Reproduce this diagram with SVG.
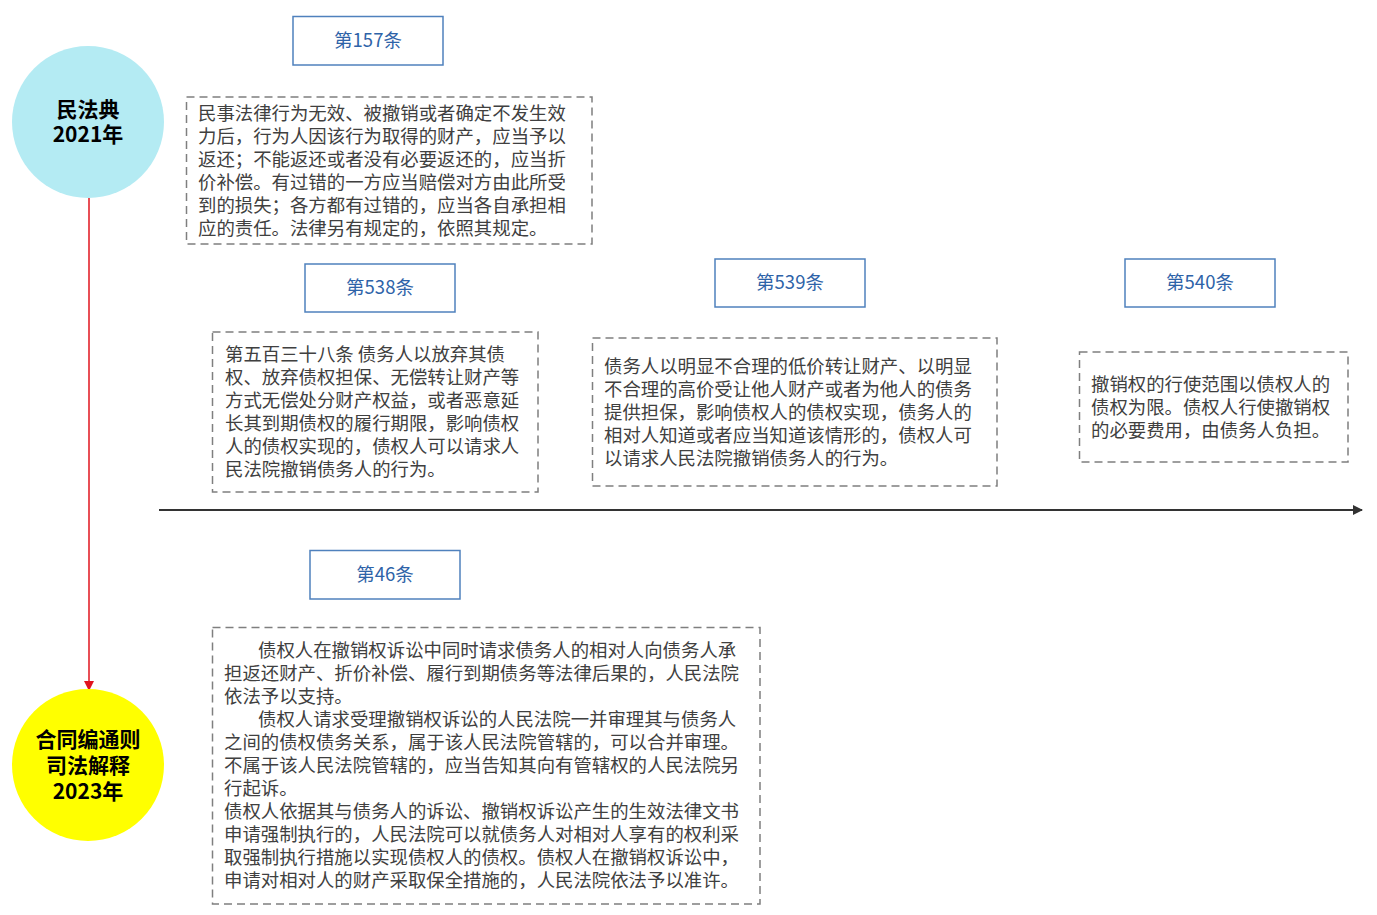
<svg xmlns="http://www.w3.org/2000/svg" width="1377" height="915" viewBox="0 0 1377 915">
<defs>
<style>
.lbl rect{fill:#ffffff;stroke:#4f81bd;stroke-width:1.5}
.lbl text{font-family:"Noto Sans CJK SC","Microsoft YaHei",sans-serif;font-size:18.5px;fill:#2e63a8;text-anchor:middle}
.note rect{fill:#ffffff;stroke:#7f7f7f;stroke-width:1.5;stroke-dasharray:8 5}
.note text{font-family:"Noto Sans CJK SC",sans-serif;font-size:18.4px;fill:#404040}
.era text{font-family:"Noto Sans CJK SC",sans-serif;font-size:21px;font-weight:bold;fill:#000000;text-anchor:middle}
</style>
<marker id="arrDark" markerWidth="10" markerHeight="10" refX="9" refY="5" orient="auto" markerUnits="userSpaceOnUse" viewBox="0 0 10 10">
<path d="M0,0 L10,5 L0,10 Z" fill="#333333"/>
</marker>
<marker id="arrRed" markerWidth="10" markerHeight="10" refX="9" refY="5" orient="auto" markerUnits="userSpaceOnUse" viewBox="0 0 10 10">
<path d="M0,0 L10,5 L0,10 Z" fill="#e0141e"/>
</marker>
</defs>
<rect width="1377" height="915" fill="#ffffff"/>

<g id="connectors">
<line x1="89" y1="198" x2="89" y2="690" stroke="#e0141e" stroke-width="1.5" marker-end="url(#arrRed)"/>
<line x1="159" y1="510" x2="1362" y2="510" stroke="#333333" stroke-width="2" marker-end="url(#arrDark)"/>
</g>

<g id="era-2021" class="era">
<circle cx="88" cy="122" r="76" fill="#b4ebf3"/>
<text x="88" y="117"><tspan x="88" y="117">民法典</tspan><tspan x="88" y="142">2021年</tspan></text>
</g>

<g id="era-2023" class="era">
<circle cx="88" cy="765" r="76" fill="#ffff00"/>
<text x="88" y="747"><tspan x="88" y="747">合同编通则</tspan><tspan x="88" y="773">司法解释</tspan><tspan x="88" y="799">2023年</tspan></text>
</g>

<g id="label-157" class="lbl">
<rect x="293" y="16.5" width="150" height="48.5"/>
<text x="368" y="47">第157条</text>
</g>
<g id="note-157" class="note">
<rect x="186.5" y="97" width="405.5" height="147"/>
<text x="198" y="120"><tspan x="198" y="120">民事法律行为无效、被撤销或者确定不发生效</tspan><tspan x="198" y="143">力后，行为人因该行为取得的财产，应当予以</tspan><tspan x="198" y="166">返还；不能返还或者没有必要返还的，应当折</tspan><tspan x="198" y="189">价补偿。有过错的一方应当赔偿对方由此所受</tspan><tspan x="198" y="212">到的损失；各方都有过错的，应当各自承担相</tspan><tspan x="198" y="235">应的责任。法律另有规定的，依照其规定。</tspan></text>
</g>

<g id="label-538" class="lbl">
<rect x="305" y="264" width="150" height="48"/>
<text x="380" y="294">第538条</text>
</g>
<g id="note-538" class="note">
<rect x="212.5" y="332" width="325.5" height="160"/>
<text x="225" y="361"><tspan x="225" y="361">第五百三十八条 债务人以放弃其债</tspan><tspan x="225" y="384">权、放弃债权担保、无偿转让财产等</tspan><tspan x="225" y="407">方式无偿处分财产权益，或者恶意延</tspan><tspan x="225" y="430">长其到期债权的履行期限，影响债权</tspan><tspan x="225" y="453">人的债权实现的，债权人可以请求人</tspan><tspan x="225" y="476">民法院撤销债务人的行为。</tspan></text>
</g>

<g id="label-539" class="lbl">
<rect x="715" y="259" width="150" height="48"/>
<text x="790" y="289">第539条</text>
</g>
<g id="note-539" class="note">
<rect x="592.5" y="338" width="404.5" height="148"/>
<text x="604" y="373"><tspan x="604" y="373">债务人以明显不合理的低价转让财产、以明显</tspan><tspan x="604" y="396">不合理的高价受让他人财产或者为他人的债务</tspan><tspan x="604" y="419">提供担保，影响债权人的债权实现，债务人的</tspan><tspan x="604" y="442">相对人知道或者应当知道该情形的，债权人可</tspan><tspan x="604" y="465">以请求人民法院撤销债务人的行为。</tspan></text>
</g>

<g id="label-540" class="lbl">
<rect x="1125" y="259" width="150" height="48"/>
<text x="1200" y="289">第540条</text>
</g>
<g id="note-540" class="note">
<rect x="1079.5" y="352" width="268.5" height="110"/>
<text x="1091" y="391"><tspan x="1091" y="391">撤销权的行使范围以债权人的</tspan><tspan x="1091" y="414">债权为限。债权人行使撤销权</tspan><tspan x="1091" y="437">的必要费用，由债务人负担。</tspan></text>
</g>

<g id="label-46" class="lbl">
<rect x="310" y="550.5" width="150" height="48.5"/>
<text x="385" y="581">第46条</text>
</g>
<g id="note-46" class="note">
<rect x="212.5" y="627.5" width="547.5" height="276.5"/>
<text x="258" y="657"><tspan x="258" y="657">债权人在撤销权诉讼中同时请求债务人的相对人向债务人承</tspan><tspan x="224" y="680">担返还财产、折价补偿、履行到期债务等法律后果的，人民法院</tspan><tspan x="224" y="703">依法予以支持。</tspan><tspan x="258" y="726">债权人请求受理撤销权诉讼的人民法院一并审理其与债务人</tspan><tspan x="224" y="749">之间的债权债务关系，属于该人民法院管辖的，可以合并审理。</tspan><tspan x="224" y="772">不属于该人民法院管辖的，应当告知其向有管辖权的人民法院另</tspan><tspan x="224" y="795">行起诉。</tspan><tspan x="224" y="818">债权人依据其与债务人的诉讼、撤销权诉讼产生的生效法律文书</tspan><tspan x="224" y="841">申请强制执行的，人民法院可以就债务人对相对人享有的权利采</tspan><tspan x="224" y="864">取强制执行措施以实现债权人的债权。债权人在撤销权诉讼中，</tspan><tspan x="224" y="887">申请对相对人的财产采取保全措施的，人民法院依法予以准许。</tspan></text>
</g>
</svg>
